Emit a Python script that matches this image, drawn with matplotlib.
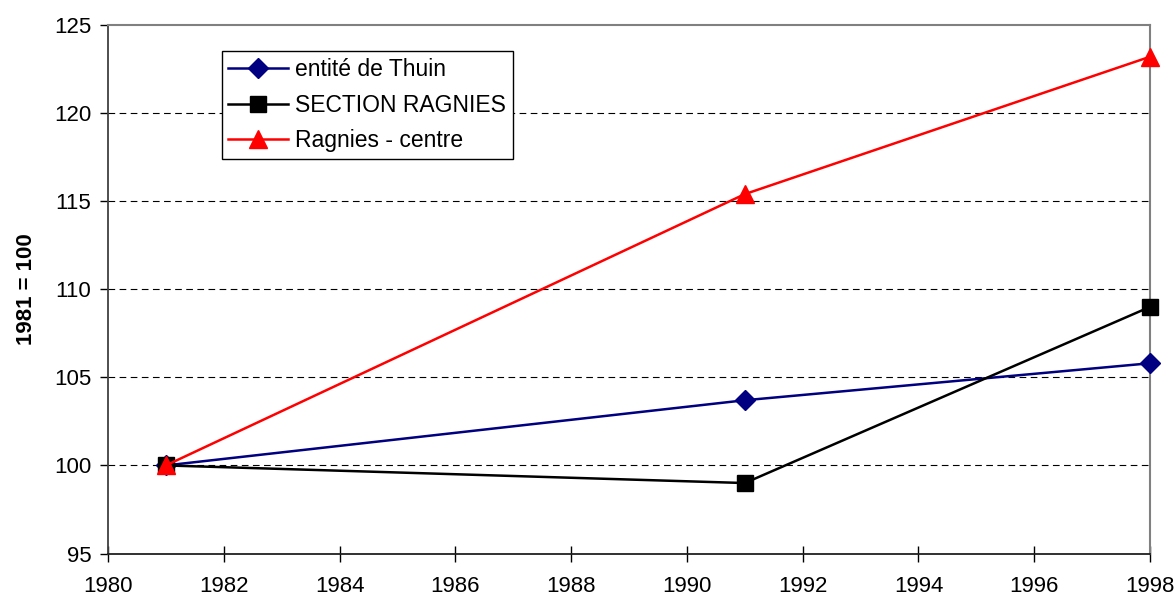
import matplotlib.pyplot as plt

plt.rcParams['font.family'] = ['Liberation Sans', 'DejaVu Sans']

years = [1981, 1991, 1998]
thuin = [100, 103.7, 105.8]
section = [100, 99.0, 109.0]
centre = [100, 115.4, 123.2]

fig = plt.figure(figsize=(11.76, 5.96), dpi=100)
ax = fig.add_axes([0.0918, 0.0713, 0.8861, 0.8867])

ax.plot(years, thuin, color='#000080', marker='D', markersize=10, linewidth=1.8,
        label='entité de Thuin', clip_on=False, zorder=3)
ax.plot(years, section, color='black', marker='s', markersize=12, linewidth=1.8,
        label='SECTION RAGNIES', clip_on=False, zorder=4)
ax.plot(years, centre, color='#ff0000', marker='^', markersize=13, linewidth=1.8,
        label='Ragnies - centre', clip_on=False, zorder=5)

ax.set_xlim(1980, 1998)
ax.set_ylim(95, 125)
ax.set_xticks(range(1980, 1999, 2))
ax.set_yticks(range(95, 126, 5))
ax.tick_params(axis='x', labelsize=16, direction='inout', length=11, width=1, pad=11)
ax.tick_params(axis='y', labelsize=16, direction='out', length=6, width=1, pad=6)
ax.set_ylabel('1981 = 100', fontsize=16, fontweight='bold')
ax.yaxis.set_label_coords(-0.068, 0.5)

for y in range(100, 125, 5):
    ax.axhline(y, color='black', linestyle=(0, (6, 4)), linewidth=0.8, zorder=1)

ax.spines['top'].set_color('#808080')
ax.spines['right'].set_color('#808080')
ax.spines['top'].set_linewidth(1.5)
ax.spines['right'].set_linewidth(1.5)
ax.spines['left'].set_color('#404040')
ax.spines['bottom'].set_color('#202020')
ax.spines['left'].set_linewidth(1.3)
ax.spines['bottom'].set_linewidth(1.3)

leg = ax.legend(loc='upper left', bbox_to_anchor=(0.109, 0.951), borderaxespad=0,
                fontsize=16.5, fancybox=False, framealpha=1, edgecolor='black',
                handlelength=2.6, handletextpad=0.3, labelspacing=0.56, borderpad=0.3)
leg.get_frame().set_linewidth(1)
leg.set_zorder(10)

fig.savefig('out.png', dpi=100)
